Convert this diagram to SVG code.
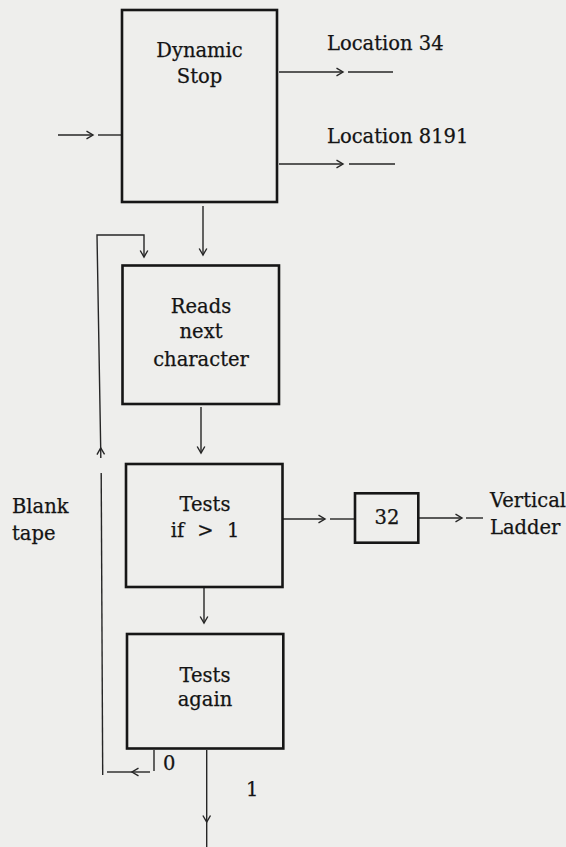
<svg xmlns="http://www.w3.org/2000/svg" width="566" height="847" viewBox="0 0 566 847">
<style>
.bg{fill:#eeeeec}
.box{fill:none;stroke:#161616;stroke-width:2.6}
.c{fill:none;stroke:#262626;stroke-width:1.4}
text{font-family:"DejaVu Serif","Liberation Serif",serif;font-size:19.5px;fill:#141414;stroke:#141414;stroke-width:0.25}
.m{text-anchor:middle}
</style>
<defs>
<marker id="ah" viewBox="-8 -5 10 10" refX="0" refY="0" markerWidth="10" markerHeight="10" orient="auto" markerUnits="userSpaceOnUse">
<path d="M-6.5,-3.8 L0,0 L-6.5,3.8" fill="none" stroke="#262626" stroke-width="1.4"/>
</marker>
</defs>
<rect class="bg" x="0" y="0" width="566" height="847"/>
<g id="connectors">
<line class="c" x1="58" y1="135" x2="93" y2="135" marker-end="url(#ah)"/>
<line class="c" x1="98" y1="135" x2="121" y2="135"/>
<line class="c" x1="279" y1="72" x2="343" y2="72" marker-end="url(#ah)"/>
<line class="c" x1="348" y1="72" x2="393" y2="72"/>
<line class="c" x1="279" y1="164" x2="343" y2="164" marker-end="url(#ah)"/>
<line class="c" x1="349" y1="164" x2="395" y2="164"/>
<line class="c" x1="203" y1="206" x2="203" y2="255" marker-end="url(#ah)"/>
<line class="c" x1="201" y1="407" x2="201" y2="453" marker-end="url(#ah)"/>
<line class="c" x1="283" y1="519" x2="325" y2="519" marker-end="url(#ah)"/>
<line class="c" x1="330" y1="519" x2="354" y2="519"/>
<line class="c" x1="419" y1="518" x2="462" y2="518" marker-end="url(#ah)"/>
<line class="c" x1="466" y1="518" x2="483" y2="518"/>
<line class="c" x1="204" y1="588" x2="204" y2="623" marker-end="url(#ah)"/>
<line class="c" x1="206.7" y1="750" x2="206.7" y2="822" marker-end="url(#ah)"/>
<line class="c" x1="206.7" y1="822" x2="206.7" y2="847"/>
<line class="c" x1="154" y1="750" x2="154" y2="771"/>
<line class="c" x1="150" y1="772" x2="132" y2="772" marker-end="url(#ah)"/>
<line class="c" x1="132" y1="772" x2="107" y2="772"/>
<line class="c" x1="102.7" y1="775" x2="101.2" y2="473"/>
<line class="c" x1="100.8" y1="458" x2="100.7" y2="448" marker-end="url(#ah)"/>
<polyline class="c" points="100.7,448 97,235 144,235 144,257" marker-end="url(#ah)"/>
</g>
<g id="dynamic_stop">
<rect class="box" x="122" y="10" width="155" height="192"/>
<text class="m" x="199.5" y="57">Dynamic</text>
<text class="m" x="199.5" y="83">Stop</text>
</g>
<g id="reads_next_character">
<rect class="box" x="122.5" y="265.5" width="156.5" height="138.5"/>
<text class="m" x="201" y="313">Reads</text>
<text class="m" x="201" y="338">next</text>
<text class="m" x="201" y="366">character</text>
</g>
<g id="tests_if_gt_1">
<rect class="box" x="126" y="464" width="156.5" height="123"/>
<text class="m" x="205" y="511">Tests</text>
<text class="m" x="205" y="537" word-spacing="7">if &gt; 1</text>
</g>
<g id="box_32">
<rect class="box" x="355" y="493.3" width="63.3" height="49.4"/>
<text class="m" x="387" y="523.5">32</text>
</g>
<g id="tests_again">
<rect class="box" x="127" y="634" width="156.3" height="114.5"/>
<text class="m" x="205" y="682">Tests</text>
<text class="m" x="205" y="706">again</text>
</g>
<g id="labels">
<text x="327" y="50">Location 34</text>
<text x="327" y="143">Location 8191</text>
<text x="12" y="513">Blank</text>
<text x="12" y="540">tape</text>
<text x="490" y="507">Vertical</text>
<text x="490" y="534">Ladder</text>
<text x="163" y="770">0</text>
<text x="246" y="796">1</text>
</g>
</svg>
